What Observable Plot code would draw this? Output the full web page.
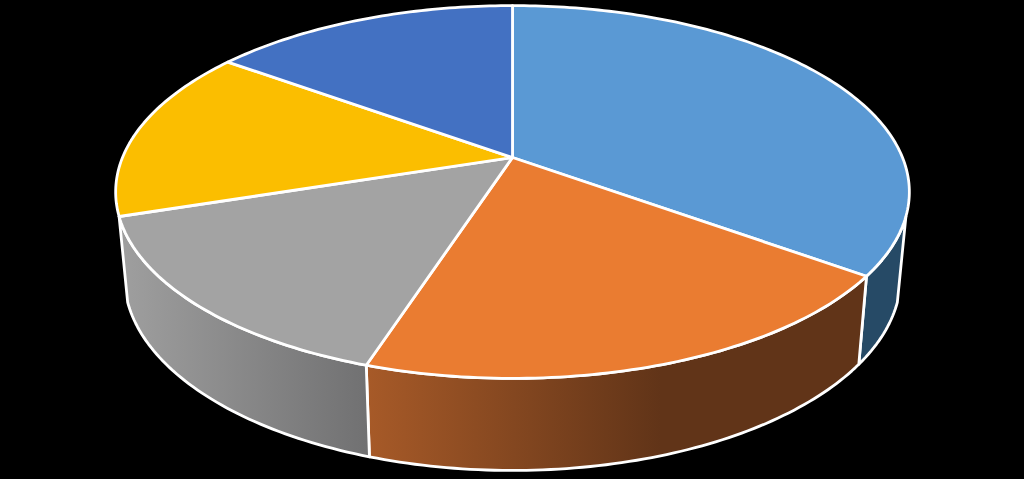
<!DOCTYPE html>
<html>
<head>
<meta charset="utf-8">
<style>html,body{margin:0;padding:0;background:#000;overflow:hidden}svg{display:block}</style>
<script src="https://cdn.jsdelivr.net/npm/d3@7"></script>
<script src="https://cdn.jsdelivr.net/npm/@observablehq/plot@0.6"></script>
</head>
<body>
<div id="chart"></div>
<script>
// Slices, clockwise from twelve o'clock
const categories = ["1st", "2nd", "3rd", "4th", "5th"];
const values = [35, 20, 15, 15, 15];
const topColors = ["#5a99d4", "#ea7c31", "#a3a3a3", "#fbbe00", "#4371c2"];

// Perspective of the tilted disc, in the pixel units of the scales
const topPlane = {cx: 512, cy: 157, a: 390, b: 180, k: 0.185};
const basePlane = {cx: 512, cy: 240.5, a: 381.5, b: 187, k: 0.185};

const project = (p, deg) => {
  const t = deg * Math.PI / 180, X = Math.sin(t), Y = Math.cos(t), w = 1 + p.k * Y;
  return {x: p.cx + p.a * X / w, y: p.cy - p.b * Y / w};
};
const arc = (p, a0, a1) => {
  const n = Math.max(2, Math.ceil(Math.abs(a1 - a0)));
  return d3.range(n + 1).map(i => project(p, a0 + (a1 - a0) * i / n));
};

const total = d3.sum(values);
const ends = d3.cumsum(values).map(v => v / total * 360);
const starts = ends.map((_, i) => i ? ends[i - 1] : 0);

// The wall of a slice: the blue one starts where the disc's silhouette turns
const wallFrom = 108;
const walls = [
  {slice: 0, fill: "#264a66"},
  {slice: 1, fill: "url(#wallOrange)"},
  {slice: 2, fill: "url(#wallGray)"}
];
const wallPath = w => {
  const a0 = w.slice === 0 ? wallFrom : starts[w.slice], a1 = ends[w.slice];
  const top = arc(topPlane, a0, a1), base = arc(basePlane, a1, a0);
  return [...top, ...base, top[0]];
};
const topPath = i => {
  const centre = {x: topPlane.cx, y: topPlane.cy};
  return [centre, ...arc(topPlane, starts[i], ends[i]), centre];
};
const edge = {x: "x", y: "y", stroke: "#fff", strokeWidth: 2.8, strokeLinejoin: "round", curve: "linear"};

const plot = Plot.plot({
  width: 1024,
  height: 479,
  margin: 0,
  style: {background: "#000"},
  x: {axis: null, domain: [0, 1024], range: [0, 1024]},
  y: {axis: null, domain: [0, 479], range: [0, 479]},
  marks: [
    ...walls.map(w => Plot.line(wallPath(w), {...edge, fill: w.fill})),
    ...values.map((_, i) => Plot.line(topPath(i), {...edge, fill: topColors[i]}))
  ]
});

const defs = d3.select(plot).insert("defs", ":first-child");
const gradient = (id, x1, x2, stops) => {
  const g = defs.append("linearGradient").attr("id", id)
    .attr("gradientUnits", "userSpaceOnUse")
    .attr("x1", x1).attr("x2", x2).attr("y1", 0).attr("y2", 0);
  stops.forEach(([o, c]) => g.append("stop").attr("offset", o).attr("stop-color", c));
};
gradient("wallOrange", 366, 660, [[0, "#a75a28"], [1, "#613418"]]);
gradient("wallGray", 125, 366, [[0, "#9e9e9e"], [1, "#717172"]]);
document.getElementById("chart").append(plot);
</script>
</body>
</html>
